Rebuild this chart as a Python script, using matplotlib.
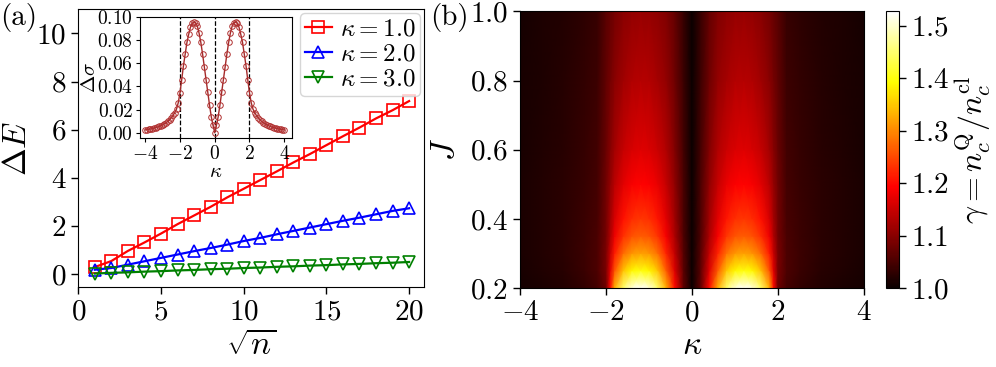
import numpy as np
import matplotlib
matplotlib.use("Agg")
import matplotlib.pyplot as plt

plt.rcParams['font.family'] = 'serif'
plt.rcParams['font.serif'] = ['cmr10']
plt.rcParams['mathtext.fontset'] = 'cm'
plt.rcParams['axes.formatter.use_mathtext'] = True
plt.rcParams['axes.unicode_minus'] = True

# ---------------- data: panel (a) ----------------
sqrt_n = list(range(1, 21))
dE_k1 = [0.30, 0.55, 0.97, 1.32, 1.69, 2.08, 2.44, 2.80, 3.19, 3.55,
         3.91, 4.27, 4.64, 4.99, 5.36, 5.73, 6.09, 6.47, 6.81, 7.19]
dE_k2 = [0.19, 0.26, 0.40, 0.54, 0.68, 0.82, 0.96, 1.09, 1.23, 1.38,
         1.51, 1.66, 1.80, 1.94, 2.08, 2.22, 2.35, 2.49, 2.63, 2.74]
dE_k3 = [0.03, 0.06, 0.08, 0.11, 0.13, 0.16, 0.18, 0.21, 0.23, 0.26,
         0.28, 0.31, 0.33, 0.36, 0.38, 0.41, 0.43, 0.46, 0.48, 0.51]
legend_labels = [r'$\kappa = 1.0$', r'$\kappa = 2.0$', r'$\kappa = 3.0$']

# inset: Delta sigma vs kappa (negative half, mirrored since symmetric)
kappa_inset_half = [-4.0, -3.9, -3.8, -3.7, -3.6, -3.5, -3.4, -3.3, -3.2, -3.1,
                    -3.0, -2.9, -2.8, -2.7, -2.6, -2.5, -2.4, -2.3, -2.2, -2.1,
                    -2.0, -1.9, -1.8, -1.7, -1.6, -1.5, -1.4, -1.3, -1.2, -1.1,
                    -1.0, -0.9, -0.8, -0.7, -0.6, -0.5, -0.4, -0.3, -0.2, -0.1, 0.0]
dsigma_half = [0.0025, 0.0027, 0.0030, 0.0033, 0.0036, 0.0040, 0.0044, 0.0049, 0.0055, 0.0061,
               0.0068, 0.0077, 0.0087, 0.0099, 0.0113, 0.0130, 0.0150, 0.0174, 0.0205, 0.0260,
               0.0346, 0.046, 0.058, 0.068, 0.078, 0.085, 0.091, 0.0945, 0.0957, 0.095,
               0.092, 0.086, 0.078, 0.068, 0.057, 0.046, 0.035, 0.024, 0.014, 0.0065, 0.0]
inset_vlines = [-2, 0, 2]

# ---------------- data: panel (b) ----------------
kappa_grid_half = [-4.0, -3.5, -3.0, -2.5, -2.2, -2.0, -1.9, -1.8, -1.6, -1.4,
                   -1.2, -1.0, -0.8, -0.6, -0.4, -0.2, 0.0]
J_grid = [0.2, 0.25, 0.3, 0.35, 0.4, 0.5, 0.6, 0.8, 1.0]
gamma_half = [
    [1.010, 1.014, 1.020, 1.032, 1.046, 1.080, 1.200, 1.330, 1.450, 1.510, 1.525, 1.510, 1.450, 1.330, 1.200, 1.068, 1.0],
    [1.012, 1.018, 1.024, 1.039, 1.053, 1.088, 1.168, 1.259, 1.345, 1.388, 1.400, 1.389, 1.348, 1.264, 1.166, 1.064, 1.0],
    [1.013, 1.019, 1.026, 1.040, 1.053, 1.089, 1.148, 1.213, 1.277, 1.309, 1.320, 1.311, 1.281, 1.220, 1.145, 1.060, 1.0],
    [1.013, 1.019, 1.025, 1.038, 1.050, 1.084, 1.129, 1.180, 1.230, 1.256, 1.265, 1.258, 1.234, 1.187, 1.126, 1.055, 1.0],
    [1.013, 1.019, 1.026, 1.038, 1.049, 1.083, 1.121, 1.162, 1.204, 1.227, 1.235, 1.229, 1.209, 1.170, 1.118, 1.053, 1.0],
    [1.013, 1.019, 1.026, 1.036, 1.047, 1.081, 1.108, 1.138, 1.170, 1.188, 1.195, 1.191, 1.175, 1.147, 1.105, 1.050, 1.0],
    [1.012, 1.018, 1.024, 1.034, 1.045, 1.076, 1.098, 1.121, 1.147, 1.162, 1.168, 1.164, 1.152, 1.130, 1.094, 1.046, 1.0],
    [1.011, 1.016, 1.022, 1.031, 1.040, 1.069, 1.084, 1.100, 1.119, 1.130, 1.135, 1.132, 1.123, 1.108, 1.080, 1.041, 1.0],
    [1.010, 1.015, 1.020, 1.028, 1.036, 1.062, 1.073, 1.085, 1.099, 1.108, 1.113, 1.111, 1.104, 1.093, 1.070, 1.036, 1.0],
]
cbar_ticks = [1.0, 1.1, 1.2, 1.3, 1.4, 1.5]

# ---------------- figure ----------------
fig = plt.figure(figsize=(9.96, 3.67), dpi=100)
TICK = 21
LAB = 24

ax1 = fig.add_axes([0.0786, 0.2172, 0.3471, 0.7575])
series = [(dE_k1, 'red', 's'), (dE_k2, 'blue', '^'), (dE_k3, 'green', 'v')]
for (vals, col, mk), lab in zip(series, legend_labels):
    ax1.plot(sqrt_n, vals, color=col, marker=mk, mfc='none', mec=col,
             ms=8, mew=1.2, lw=1.6, label=lab)
ax1.set_xlim(0, 20.9)
ax1.set_ylim(-0.54, 11.0)
ax1.set_xticks([0, 5, 10, 15, 20])
ax1.set_yticks([0, 2, 4, 6, 8, 10])
ax1.tick_params(labelsize=TICK, direction='out', length=5, width=1)
ax1.set_xlabel(r'$\sqrt{n}$', fontsize=LAB)
ax1.set_ylabel(r'$\Delta E$', fontsize=LAB)
ax1.xaxis.set_label_coords(0.5, -0.155)
ax1.yaxis.set_label_coords(-0.135, 0.5)
leg = ax1.legend(loc='upper right', bbox_to_anchor=(1.0, 1.0), fontsize=18,
                 handlelength=1.1, handletextpad=0.3, labelspacing=0.1,
                 borderpad=0.2, borderaxespad=0.15, framealpha=0.8)

# inset
axi = fig.add_axes([0.1406, 0.624, 0.1526, 0.3297])
kin = np.concatenate([kappa_inset_half, -np.array(kappa_inset_half[-2::-1])])
dsi = np.concatenate([dsigma_half, dsigma_half[-2::-1]])
for v in inset_vlines:
    axi.axvline(v, color='black', ls='--', lw=0.9)
axi.plot(kin, dsi, color='#a52a2a', marker='o', mfc='none', mec='#b03030',
         ms=4, mew=0.7, lw=1.0)
axi.set_xlim(-4.3, 4.45)
axi.set_ylim(-0.0045, 0.1)
axi.set_xticks([-4, -2, 0, 2, 4])
axi.set_yticks([0.0, 0.02, 0.04, 0.06, 0.08, 0.10])
axi.yaxis.set_major_formatter(matplotlib.ticker.FormatStrFormatter(r'$%.2f$'))
axi.tick_params(labelsize=14, direction='out', length=3, width=0.8, pad=2)
axi.set_xlabel(r'$\kappa$', fontsize=15, labelpad=0)
axi.set_ylabel(r'$\Delta\sigma$', fontsize=15)
axi.yaxis.set_label_coords(-0.27, 0.5)

# panel (b)
ax2 = fig.add_axes([0.5221, 0.2153, 0.3454, 0.7534])
kfull = np.concatenate([kappa_grid_half, -np.array(kappa_grid_half[-2::-1])])
gh = np.array(gamma_half)
gfull = np.hstack([gh, gh[:, -2::-1]])
K, JJ = np.meshgrid(kfull, J_grid)
pcm = ax2.pcolormesh(K, JJ, gfull, shading='gouraud', cmap='hot',
                     vmin=1.0, vmax=1.527, rasterized=True)
ax2.set_xlim(-4, 4)
ax2.set_ylim(0.2, 1.0)
ax2.set_xticks([-4, -2, 0, 2, 4])
ax2.set_yticks([0.2, 0.4, 0.6, 0.8, 1.0])
ax2.yaxis.set_major_formatter(matplotlib.ticker.FormatStrFormatter(r'$%.1f$'))
ax2.tick_params(labelsize=TICK, direction='out', length=5, width=1)
ax2.set_xlabel(r'$\kappa$', fontsize=LAB)
ax2.set_ylabel(r'$J$', fontsize=LAB)
ax2.xaxis.set_label_coords(0.5, -0.155)
ax2.yaxis.set_label_coords(-0.175, 0.5)

cax = fig.add_axes([0.8893, 0.2153, 0.0137, 0.7534])
cb = fig.colorbar(pcm, cax=cax, ticks=cbar_ticks)
cb.ax.yaxis.set_major_formatter(matplotlib.ticker.FormatStrFormatter(r'$%.1f$'))
cb.ax.tick_params(labelsize=TICK, length=5, width=1)
cb.set_label(r'$\gamma = n_c^{\rm Q}/n_c^{\rm cl}$', fontsize=23)
cb.ax.yaxis.set_label_coords(5.0, 0.5)
cb.outline.set_linewidth(0.8)

fig.text(0.0, 0.951, '(a)', fontsize=TICK, ha='left', va='center')
fig.text(0.4317, 0.951, '(b)', fontsize=TICK, ha='left', va='center')

fig.savefig('out.png', dpi=100)
